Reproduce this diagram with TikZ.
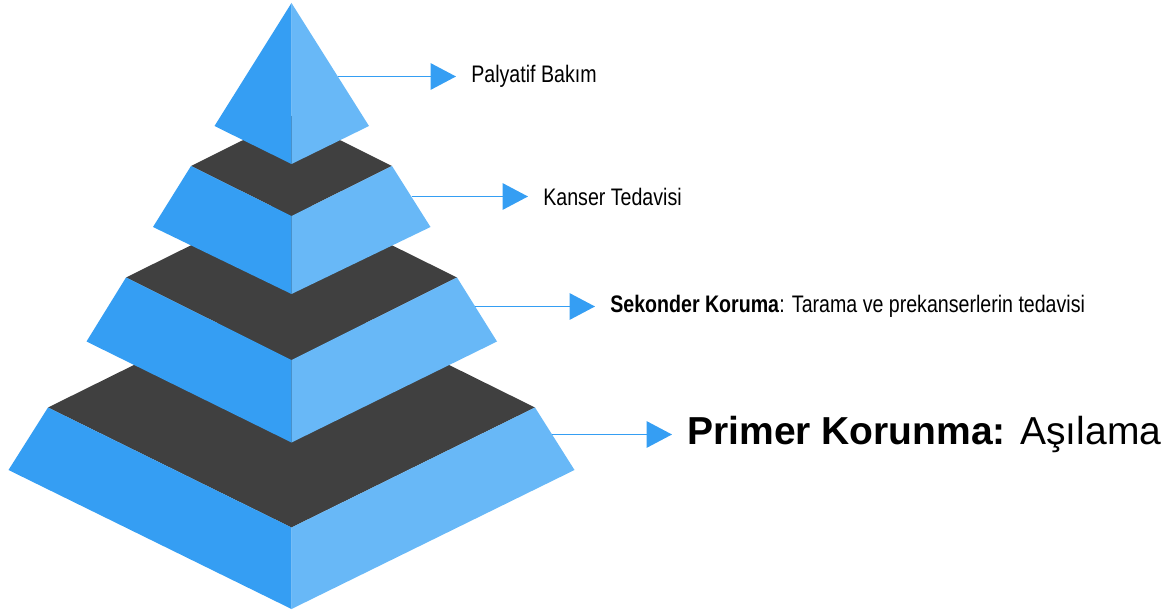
\documentclass[tikz,border=0pt]{standalone}
\usepackage{fontspec}
\setmainfont{Liberation Sans}
\newfontfamily\narrowfont[FakeStretch=0.82]{Liberation Sans}
\usetikzlibrary{positioning,arrows.meta}

\definecolor{pyrblue}{RGB}{53,158,243}
\definecolor{pyrlight}{RGB}{104,184,247}
\definecolor{pyrgray}{RGB}{64,64,64}

\tikzset{
	leftside/.style={fill=pyrblue},
	rightside/.style={fill=pyrlight},
	topside/.style={fill=pyrgray},
	pointer/.style={draw=pyrblue, line width=1pt, -{Triangle[length=0.51cm,width=0.53cm]}, shorten >=0.3cm},
	lbl/.style={inner xsep=0pt, inner ysep=1pt, font=\narrowfont\fontsize{13.6}{16}\selectfont},
	biglbl/.style={inner xsep=0pt, inner ysep=1pt, font=\fontsize{22.2}{26}\selectfont}
}

\begin{document}
\begin{tikzpicture}[scale=1]
	\useasboundingbox (0,0) rectangle (23.28,12.2);

	% tier 4
	\fill[topside] (0.96,4.05) -- (5.83,1.65) -- (10.70,4.05) -- (5.83,6.46) -- cycle;
	\fill[leftside] (0.96,4.05) -- (5.83,1.65) -- (5.83,0.02) -- (0.17,2.80) -- cycle;
	\fill[rightside] (10.70,4.05) -- (5.83,1.65) -- (5.83,0.02) -- (11.49,2.80) -- cycle;

	% tier 3
	\fill[topside] (2.52,6.65) -- (5.83,5.00) -- (9.14,6.65) -- (5.83,8.29) -- cycle;
	\fill[leftside] (2.52,6.65) -- (5.83,5.00) -- (5.83,3.35) -- (1.73,5.37) -- cycle;
	\fill[rightside] (9.14,6.65) -- (5.83,5.00) -- (5.83,3.35) -- (9.94,5.37) -- cycle;

	% tier 2
	\fill[topside] (3.82,8.88) -- (5.83,7.88) -- (7.84,8.88) -- (5.83,9.88) -- cycle;
	\fill[leftside] (3.82,8.88) -- (5.83,7.88) -- (5.83,6.32) -- (3.06,7.66) -- cycle;
	\fill[rightside] (7.84,8.88) -- (5.83,7.88) -- (5.83,6.32) -- (8.61,7.66) -- cycle;

	% tip
	\fill[leftside] (5.83,12.14) -- (4.29,9.68) -- (5.83,8.92) -- cycle;
	\fill[rightside] (5.83,12.14) -- (7.38,9.68) -- (5.83,8.92) -- cycle;

	% arrow starts
	\coordinate (e1) at (6.76,10.67);
	\coordinate (e2) at (8.23,8.27);
	\coordinate (e3) at (9.50,6.07);
	\coordinate (e4) at (11.04,3.51);

	% labels
	\node[lbl, right=2.66cm of e1] (t1) {Palyatif Bakım};
	\node[lbl, right=2.63cm of e2] (t2) {Kanser Tedavisi};
	\node[lbl, right=2.70cm of e3] (t3) {\textbf{Sekonder Koruma}: Tarama ve prekanserlerin tedavisi};
	\node[biglbl, right=2.70cm of e4] (t4) {\textbf{Primer Korunma:} Aşılama};

	% arrows
	\draw[pointer] (e1) -- (t1);
	\draw[pointer] (e2) -- (t2);
	\draw[pointer] (e3) -- (t3);
	\draw[pointer] (e4) -- (t4);

\end{tikzpicture}
\end{document}
